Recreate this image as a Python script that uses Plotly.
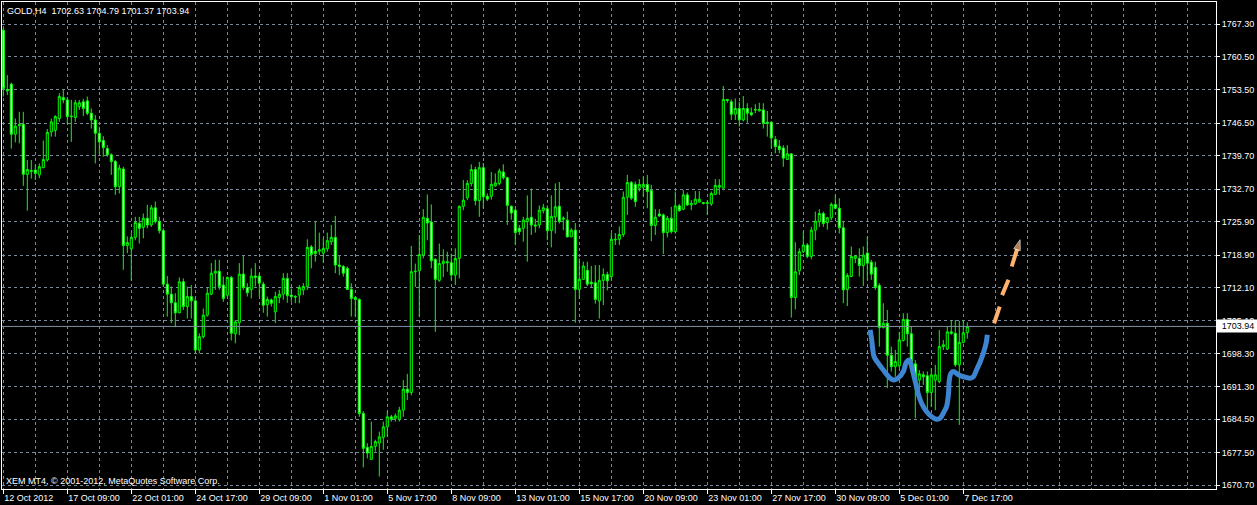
import plotly.graph_objects as go

# ---------------- data ----------------
opens = [1766.0,1753.6,1754.7,1744.2,1746.0,1746.3,1735.8,1736.4,1736.7,1735.7,1737.2,1738.8,1744.7,1745.0,1747.5,1751.9,1751.4,1748.0,1747.7,1750.0,
 1751.0,1751.2,1748.6,1747.2,1744.4,1742.9,1741.2,1739.9,1738.5,1733.2,1736.9,1720.9,1720.2,1722.6,1725.5,1724.7,1726.6,1725.2,1728.8,1725.9,
 1724.0,1712.8,1710.7,1708.9,1706.8,1713.3,1708.1,1710.2,1709.3,1699.0,1701.8,1706.3,
 1710.7,1715.1,1715.5,1712.6,1710.5,1714.2,1702.4,1704.7,1714.9,1712.1,1711.7,1714.5,1714.5,1712.8,1708.5,1709.5,1707.0,1710.0,1710.7,1714.0,
 1710.5,1710.2,1710.5,1711.6,1712.3,1720.6,1719.7,1719.7,1719.3,1720.2,1721.7,1722.6,1716.8,1716.5,1716.1,1711.7,1710.0,1709.6,1685.7,1678.6,
 1676.1,1678.8,1679.5,1680.7,1682.9,1685.0,1684.7,1684.5,1686.4,1690.8,
 1690.1,1715.4,1715.6,1718.9,1726.6,1725.8,1718.0,1713.6,1717.1,1717.5,1717.3,1714.7,1718.2,1729.1,1730.9,1733.9,1736.8,1730.3,1737.2,1731.2,
 1731.2,1733.4,1733.9,1736.3,1735.1,1729.1,1728.3,1724.5,1724.5,1725.9,1726.8,1725.2,1725.2,1728.2,1728.6,1724.0,1726.9,1729.1,1726.4,1726.2,
 1722.7,1724.1,1711.7,1713.8,1715.7,1713.2,1713.1,1709.3,1713.6,1714.8,
 1714.4,1722.2,1722.2,1723.2,1731.0,1734.1,1733.7,1732.9,1733.1,1733.7,1732.4,1725.1,1727.5,1727.3,1723.6,1726.6,1723.8,1729.2,1728.5,1731.5,
 1729.4,1729.6,1730.0,1729.9,1729.7,1729.6,1731.6,1733.1,1732.9,1751.5,1751.0,1748.4,1749.6,1747.2,1749.6,1748.7,1749.4,1749.1,1749.3,1746.7,
 1746.7,1743.1,1741.7,1741.3,1738.9,1740.1,1710.0,1715.6,1719.6,1721.0,
 1718.6,1724.1,1725.9,1727.6,1725.7,1726.7,1729.5,1728.7,1724.6,1711.7,1714.4,1718.2,1718.2,1716.7,1719.3,1717.4,1716.3,1712.5,1703.7,1704.6,
 1697.9,1695.5,1695.7,1701.0,1705.4,1702.4,1696.1,1692.7,1693.8,1693.6,1690.1,1692.7,1692.4,1699.7,1699.2,1702.8,1702.5,1695.9,1700.6,1702.63]

highs = [1766.5,1756.6,1755.0,1747.5,1748.9,1748.9,1738.8,1738.8,1737.8,1738.1,1742.9,1745.3,1747.5,1748.2,1752.8,1753.5,1752.0,1751.4,1751.4,1751.4,
 1751.6,1752.1,1749.6,1748.2,1745.8,1743.8,1741.9,1740.2,1738.8,1737.8,1737.4,1722.8,1723.5,1726.9,1726.9,1727.6,1729.4,1729.4,1730.1,1726.9,
 1724.5,1714.5,1712.3,1710.9,1714.2,1714.0,1712.3,1712.6,1710.0,1702.5,1707.7,1712.1,
 1717.2,1717.9,1717.9,1714.4,1714.4,1714.5,1705.3,1717.2,1718.7,1713.0,1716.1,1717.2,1715.1,1713.3,1710.2,1709.8,1711.2,1711.6,1715.1,1715.1,
 1711.9,1710.5,1712.6,1713.0,1722.2,1721.0,1725.9,1723.6,1722.4,1723.6,1725.2,1727.1,1718.7,1716.8,1716.5,1713.0,1710.2,1709.8,1686.2,1679.5,
 1684.0,1680.2,1681.9,1684.0,1686.1,1685.4,1685.7,1687.1,1692.7,1694.0,
 1720.8,1717.1,1723.1,1728.5,1731.6,1729.5,1718.2,1721.3,1720.1,1719.6,1719.2,1720.3,1729.3,1734.6,1734.6,1737.9,1737.4,1738.4,1738.2,1731.8,
 1736.3,1736.0,1737.0,1737.9,1735.3,1729.3,1728.6,1725.2,1726.9,1731.4,1732.8,1726.5,1729.3,1729.6,1729.3,1731.4,1733.9,1734.2,1727.0,1728.0,
 1724.5,1725.6,1718.2,1717.5,1717.5,1716.6,1716.8,1716.8,1716.1,1715.4,
 1723.5,1723.5,1724.9,1732.2,1735.7,1734.4,1734.3,1734.8,1735.3,1735.7,1733.6,1728.5,1728.5,1727.6,1727.1,1729.0,1732.2,1729.6,1732.5,1732.0,
 1730.4,1732.3,1732.3,1730.0,1730.4,1732.2,1734.8,1734.8,1754.3,1751.5,1751.5,1751.7,1751.0,1752.2,1750.7,1749.8,1750.5,1750.8,1750.7,1749.1,
 1747.0,1743.8,1743.0,1741.9,1741.9,1740.1,1721.6,1720.3,1723.8,1721.4,
 1724.8,1728.0,1728.5,1728.0,1726.9,1729.9,1731.5,1730.8,1725.9,1715.1,1720.7,1718.9,1720.3,1720.7,1722.7,1717.9,1717.5,1713.0,1708.8,1707.4,
 1699.7,1699.0,1702.8,1706.7,1706.7,1703.9,1696.9,1694.8,1694.5,1694.5,1695.2,1695.9,1703.2,1701.1,1703.9,1705.3,1705.3,1705.1,1705.3,1704.79]

lows = [1752.1,1752.4,1741.2,1742.5,1742.3,1733.4,1728.2,1734.9,1734.6,1735.0,1737.1,1738.5,1743.7,1743.7,1746.8,1750.7,1746.3,1742.6,1746.8,1749.3,
 1748.0,1748.2,1745.4,1738.1,1740.2,1739.5,1739.5,1735.7,1731.5,1731.8,1715.8,1719.3,1713.5,1722.0,1721.3,1722.4,1724.5,1724.8,1725.5,1723.4,
 1712.3,1706.0,1704.6,1703.8,1706.7,1707.4,1705.6,1705.6,1698.4,1698.3,1701.4,1706.0,
 1710.5,1711.6,1711.6,1709.1,1710.2,1701.0,1700.4,1702.1,1711.6,1710.2,1709.8,1712.3,1710.2,1706.8,1706.0,1708.1,1704.6,1708.8,1709.5,1708.9,
 1709.1,1708.8,1708.8,1710.5,1711.6,1716.1,1717.5,1718.9,1717.3,1719.6,1721.0,1715.1,1714.7,1714.4,1711.6,1706.0,1706.0,1685.0,1674.4,1676.3,
 1676.0,1677.7,1672.5,1678.1,1680.8,1684.0,1684.0,1684.0,1685.0,1688.5,
 1689.5,1712.2,1705.9,1718.2,1722.0,1716.1,1702.8,1713.3,1714.3,1715.4,1713.6,1712.6,1714.0,1728.3,1730.4,1733.3,1729.3,1726.9,1728.6,1730.2,
 1730.5,1733.2,1733.5,1734.7,1725.2,1726.3,1721.0,1723.1,1721.7,1717.5,1723.1,1723.6,1724.5,1727.6,1722.0,1720.5,1723.4,1725.5,1724.1,1722.6,
 1722.7,1704.7,1709.8,1713.8,1712.4,1712.2,1708.7,1705.6,1708.4,1711.5,
 1713.7,1721.0,1721.0,1722.7,1727.3,1730.4,1729.0,1732.2,1731.1,1728.7,1721.8,1723.1,1726.9,1719.1,1722.6,1723.4,1723.4,1728.0,1728.3,1729.2,
 1728.3,1729.4,1729.9,1729.5,1727.3,1729.2,1731.5,1731.5,1732.9,1750.8,1747.2,1747.2,1745.8,1746.9,1746.6,1748.0,1748.6,1749.0,1745.4,1743.7,
 1741.3,1740.2,1740.2,1737.4,1738.9,1705.8,1707.5,1714.7,1719.3,1718.2,
 1718.0,1722.0,1724.8,1724.8,1724.2,1726.2,1728.5,1723.4,1708.8,1708.2,1714.4,1717.2,1714.4,1712.4,1713.7,1713.7,1711.6,1699.7,1703.5,1691.0,
 1694.5,1693.4,1695.2,1700.8,1699.7,1694.1,1684.7,1689.9,1691.7,1686.4,1687.1,1686.4,1692.0,1699.0,1699.0,1702.2,1695.5,1683.3,1700.4,1701.37]

closes = [1753.8,1753.3,1744.2,1745.9,1746.2,1735.8,1736.8,1736.6,1736.0,1737.4,1738.9,1744.6,1746.8,1747.9,1752.1,1751.4,1747.9,1747.9,1750.8,1750.8,
 1749.6,1748.6,1747.2,1744.4,1742.6,1741.4,1739.9,1738.5,1733.2,1737.1,1720.9,1721.5,1722.6,1725.7,1724.5,1726.6,1725.2,1728.8,1725.9,1724.0,
 1712.8,1710.7,1708.9,1706.8,1713.3,1708.1,1710.2,1709.3,1699.0,1701.8,1706.3,1710.9,
 1715.1,1715.5,1712.3,1709.8,1714.2,1702.5,1704.9,1714.9,1712.1,1711.0,1714.5,1714.2,1713.0,1708.4,1709.6,1708.8,1710.2,1710.7,1714.0,1710.4,
 1710.2,1710.1,1712.1,1712.3,1720.5,1719.0,1719.2,1720.0,1720.3,1721.9,1722.6,1716.8,1716.5,1715.1,1711.7,1709.8,1709.6,1685.7,1678.4,1677.4,
 1678.8,1679.8,1680.8,1682.9,1685.0,1684.5,1685.2,1686.4,1690.8,1690.1,
 1715.4,1715.5,1719.0,1726.8,1725.6,1717.7,1713.8,1717.1,1717.6,1717.3,1714.7,1718.2,1729.1,1730.4,1733.9,1736.8,1730.3,1737.2,1731.1,1730.6,
 1733.7,1734.0,1736.5,1735.1,1729.3,1727.7,1723.6,1723.8,1726.2,1726.6,1725.2,1725.0,1728.3,1728.8,1724.0,1727.0,1729.0,1725.9,1726.6,1722.7,
 1724.1,1711.7,1713.8,1716.6,1712.8,1712.9,1709.6,1713.6,1714.8,1713.5,
 1722.2,1722.1,1723.2,1731.0,1734.1,1730.8,1730.1,1733.7,1733.7,1732.2,1725.1,1726.8,1727.1,1723.6,1726.6,1723.8,1729.2,1728.2,1731.5,1729.4,
 1729.7,1730.6,1730.6,1729.7,1729.9,1731.8,1733.5,1733.5,1751.5,1751.3,1748.4,1749.6,1747.2,1749.6,1748.6,1748.3,1749.3,1749.4,1746.5,1746.5,
 1743.4,1741.6,1741.0,1739.2,1740.1,1710.0,1715.4,1719.6,1721.0,1718.6,
 1724.1,1726.0,1727.6,1725.5,1726.7,1729.5,1728.7,1724.6,1711.6,1714.6,1718.6,1718.7,1716.7,1718.9,1717.2,1714.9,1712.1,1703.7,1704.6,1697.9,
 1695.5,1696.6,1701.1,1705.4,1702.4,1696.6,1692.7,1694.0,1693.4,1690.1,1693.8,1693.8,1699.7,1700.1,1702.8,1702.5,1695.9,1700.6,1702.6,1703.94]

bar_index = list(range(len(closes)))

date_tick_bars = [0, 16, 32, 48, 64, 80, 96, 112, 128, 144, 160, 176, 192, 208, 224, 240]
date_tick_labels = ["12 Oct 2012", "17 Oct 09:00", "22 Oct 01:00", "24 Oct 17:00", "29 Oct 09:00",
                    "1 Nov 01:00", "5 Nov 17:00", "8 Nov 09:00", "13 Nov 01:00", "15 Nov 17:00",
                    "20 Nov 09:00", "23 Nov 01:00", "27 Nov 17:00", "30 Nov 09:00", "5 Dec 01:00",
                    "7 Dec 17:00"]
price_ticks = [1767.30, 1760.50, 1753.50, 1746.50, 1739.70, 1732.70, 1725.90, 1718.90,
               1712.10, 1705.10, 1698.30, 1691.30, 1684.50, 1677.50, 1670.70]

# hand-drawn pattern (bar index, price)
blue_x = [216.7, 217.1, 217.7, 218.5, 220.0, 221.7, 222.7, 223.7, 225.0, 225.8, 226.5, 227.1, 227.7,
          228.2, 228.8, 229.6, 230.8, 232.1, 233.3, 234.2, 235.2, 235.8, 236.3, 236.5, 236.9, 237.5,
          238.8, 240.0, 241.7, 242.5, 243.3, 244.2, 245.0, 245.7, 246.0]
blue_y = [1703.2, 1701.1, 1697.6, 1696.5, 1694.8, 1693.1, 1692.7, 1693.1, 1694.5, 1696.5, 1696.9, 1695.5,
          1693.4, 1691.7, 1689.6, 1687.8, 1686.1, 1685.0, 1684.5, 1684.7, 1686.1, 1687.1, 1689.9, 1692.7,
          1694.1, 1694.5, 1693.8, 1693.4, 1693.1, 1693.4, 1694.8, 1696.5, 1698.3, 1700.4, 1702.2]
orange_x = [247.7, 249.1, None, 249.7, 251.3]
orange_y = [1704.6, 1708.1, None, 1710.5, 1713.7]
arrow_x = [252.1, 254.2]
arrow_y = [1716.5, 1722.1]

# ---------------- figure ----------------
GRID = "#778899"
FONT = "Liberation Sans, Arial, sans-serif"
FS = 9

fig = go.Figure()
fig.add_trace(go.Candlestick(
    x=bar_index, open=opens, high=highs, low=lows, close=closes,
    increasing=dict(line=dict(color="#00FF00", width=1), fillcolor="#000000"),
    decreasing=dict(line=dict(color="#00FF00", width=1), fillcolor="#FFFFFF"),
    whiskerwidth=0, hoverinfo="skip", showlegend=False))

fig.add_trace(go.Scatter(x=blue_x, y=blue_y, mode="lines",
                         line=dict(color="#3D85D1", width=5, shape="spline"),
                         hoverinfo="skip", showlegend=False))
fig.add_trace(go.Scatter(x=orange_x, y=orange_y, mode="lines",
                         line=dict(color="#FFB26E", width=4),
                         hoverinfo="skip", showlegend=False, connectgaps=False))
fig.add_trace(go.Scatter(x=arrow_x, y=arrow_y, mode="lines+markers",
                         line=dict(color="#FFB26E", width=4),
                         marker=dict(symbol="arrow", size=[0, 11], angleref="previous",
                                     color="#FFB26E"),
                         hoverinfo="skip", showlegend=False))

last_close = closes[-1]
fig.add_shape(type="line", xref="paper", x0=0, x1=1, yref="y", y0=last_close, y1=last_close,
              line=dict(color="#8090A2", width=1), layer="above")

fig.add_annotation(xref="paper", yref="y", x=1, y=last_close, xanchor="left", yanchor="middle",
                   text=f"{last_close:.2f}", showarrow=False, bgcolor="#FFFFFF",
                   font=dict(family=FONT, size=FS, color="#000000"), borderpad=1, xshift=0,
                   width=40)

fig.add_annotation(xref="paper", yref="paper", x=0, y=1, xanchor="left", yanchor="top",
                   text=f"GOLD,H4  {opens[-1]:.2f} {highs[-1]:.2f} {lows[-1]:.2f} {closes[-1]:.2f}",
                   showarrow=False, font=dict(family=FONT, size=FS, color="#FFFFFF"),
                   xshift=3, yshift=-2)
fig.add_annotation(xref="paper", yref="paper", x=0, y=0, xanchor="left", yanchor="bottom",
                   text="XEM MT4, © 2001-2012, MetaQuotes Software Corp.",
                   showarrow=False, font=dict(family=FONT, size=FS, color="#FFFFFF"),
                   xshift=2, yshift=1)

minor_vals = list(range(0, 304, 8))

fig.update_layout(
    width=1257, height=505,
    margin=dict(l=2, r=41, t=2, b=16),
    paper_bgcolor="#000000", plot_bgcolor="#000000",
    boxgap=0.25,
    showlegend=False,
    xaxis=dict(
        range=[-0.325, 303.175], rangeslider=dict(visible=False),
        tickmode="array", tickvals=date_tick_bars, ticktext=date_tick_labels,
        ticklabelposition="outside right", tickangle=0, automargin=False,
        ticks="outside", ticklen=4, tickcolor="#FFFFFF", tickwidth=1,
        tickfont=dict(family=FONT, size=FS, color="#FFFFFF"),
        showgrid=True, gridcolor=GRID, griddash="3px,3px", gridwidth=1,
        minor=dict(tickmode="array", tickvals=minor_vals, showgrid=True, gridcolor=GRID,
                   griddash="3px,3px", gridwidth=1, ticks=""),
        showline=True, linecolor="#FFFFFF", linewidth=1, mirror=True,
        zeroline=False, fixedrange=True,
    ),
    yaxis=dict(
        range=[1669.88, 1771.91], side="right", automargin=False,
        tickmode="array", tickvals=price_ticks, ticktext=[f"{v:.2f}" for v in price_ticks],
        ticks="outside", ticklen=3, tickcolor="#FFFFFF", tickwidth=1,
        tickfont=dict(family=FONT, size=FS, color="#FFFFFF"),
        showgrid=True, gridcolor=GRID, griddash="3px,3px", gridwidth=1,
        showline=True, linecolor="#FFFFFF", linewidth=1, mirror=True,
        zeroline=False, fixedrange=True,
    ),
)

fig.write_html("out.html", config={"displayModeBar": False},
               post_script="document.body.style.margin='0px';document.body.style.background='#000';")
